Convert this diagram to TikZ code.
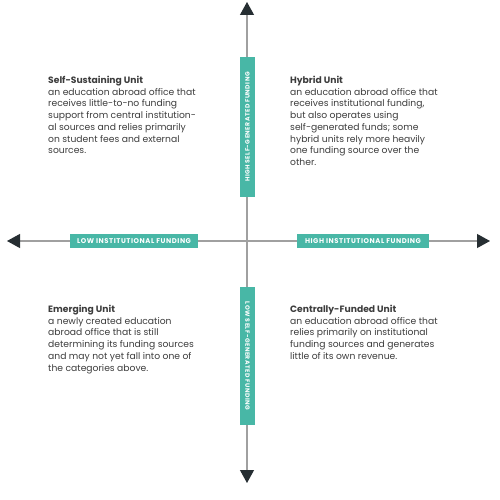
\documentclass[tikz,border=0pt]{standalone}
\usepackage{fontspec}
\setmainfont{Poppins}
\newfontfamily\labfont[LetterSpace=8]{Poppins}
\usetikzlibrary{arrows.meta}
\definecolor{teal1}{RGB}{72,183,166}
\definecolor{axisgray}{RGB}{160,160,160}
\definecolor{headdark}{RGB}{38,46,50}
\definecolor{txt}{RGB}{60,60,60}
\begin{document}
\begin{tikzpicture}[x=1pt,y=-1pt,
  axis/.style={draw=axisgray,line width=1.2pt,-{Triangle[length=13pt,width=14pt,color=headdark]}},
  lab/.style={fill=teal1,text=white,font=\labfont\fontsize{6.9}{7}\selectfont\bfseries,inner sep=0pt,minimum height=14pt,anchor=center},
  vlab/.style={lab,font=\labfont\fontsize{6.1}{7}\selectfont\bfseries,minimum height=15pt},
  desc/.style={anchor=north west,align=left,text=txt,font=\fontsize{9.2}{11.7}\selectfont,inner sep=0pt}
]
\useasboundingbox (0,0) rectangle (500,500);
\coordinate (c) at (247,241);
\coordinate (L) at (7,241);
\coordinate (R) at (490,241);
\coordinate (T) at (247,2);
\coordinate (B) at (247,483);
\draw[axis] (c) -- (L);
\draw[axis] (c) -- (R);
\draw[axis] (c) -- (T);
\draw[axis] (c) -- (B);
\node[lab,minimum width=128pt] (lif) at (134,241) {LOW INSTITUTIONAL FUNDING};
\node[lab,minimum width=132pt] (hif) at (363,241) {HIGH INSTITUTIONAL FUNDING};
\node[vlab,minimum width=140pt,rotate=90] (hsg) at (247.5,127) {HIGH SELF-GENERATED FUNDING};
\node[vlab,minimum width=138pt,rotate=-90] (lsg) at (247.5,356) {LOW SELF-GENERATED FUNDING};
\node[desc] (ss) at (48,76) {\textbf{Self-Sustaining Unit}\\an education abroad office that\\receives little-to-no funding\\support from central institution-\\al sources and relies primarily\\on student fees and external\\sources.};
\node[desc] (hy) at (290,76) {\textbf{Hybrid Unit}\\an education abroad office that\\receives institutional funding,\\but also operates using\\self-generated funds; some\\hybrid units rely more heavily\\one funding source over the\\other.};
\node[desc] (em) at (48,305) {\textbf{Emerging Unit}\\a newly created education\\abroad office that is still\\determining its funding sources\\and may not yet fall into one of\\the categories above.};
\node[desc] (cf) at (290,305) {\textbf{Centrally-Funded Unit}\\an education abroad office that\\relies primarily on institutional\\funding sources and generates\\little of its own revenue.};
\end{tikzpicture}
\end{document}
